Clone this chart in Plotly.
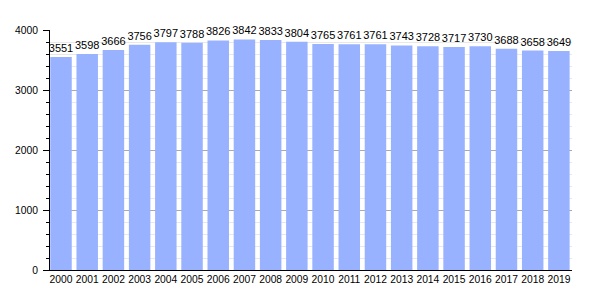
import plotly.graph_objects as go

years = [str(y) for y in range(2000, 2020)]
population = [3551, 3598, 3666, 3756, 3797, 3788, 3826, 3842, 3833, 3804,
              3765, 3761, 3761, 3743, 3728, 3717, 3730, 3688, 3658, 3649]
y_ticks = [0, 1000, 2000, 3000, 4000]

fig = go.Figure(go.Bar(
    x=years, y=population,
    marker=dict(color="rgb(153,178,255)", line=dict(width=0)),
    text=[str(v) for v in population], textposition="outside",
    textfont=dict(family="Liberation Sans, Arial, sans-serif", size=11, color="black"),
    constraintext="none",
    cliponaxis=False,
))

fig.update_layout(
    width=600, height=300,
    margin=dict(l=50, r=28, t=30, b=30),
    paper_bgcolor="white", plot_bgcolor="white",
    bargap=0.18,
    showlegend=False,
    font=dict(family="Liberation Sans, Arial, sans-serif", size=11, color="black"),
)
fig.update_xaxes(
    range=[-0.42, len(years) - 0.5],
    showline=True, linecolor="black", linewidth=1,
    ticks="", tickfont=dict(size=10.3), tickangle=0, showgrid=False,
    automargin=False,
)
fig.update_yaxes(
    range=[0, 4000], tickvals=y_ticks, ticktext=[str(v) for v in y_ticks],
    showline=True, linecolor="black", linewidth=1,
    ticks="outside", ticklen=6, tickcolor="black",
    showgrid=True, gridcolor="#aaaaaa", gridwidth=1,
    tickfont=dict(size=10.3), ticklabelstandoff=3,
    minor=dict(dtick=200, ticks="outside", ticklen=3, tickcolor="black",
               showgrid=True, gridcolor="#e8e8e8"),
    zeroline=False, automargin=False,
)

fig.write_html("out.html")
